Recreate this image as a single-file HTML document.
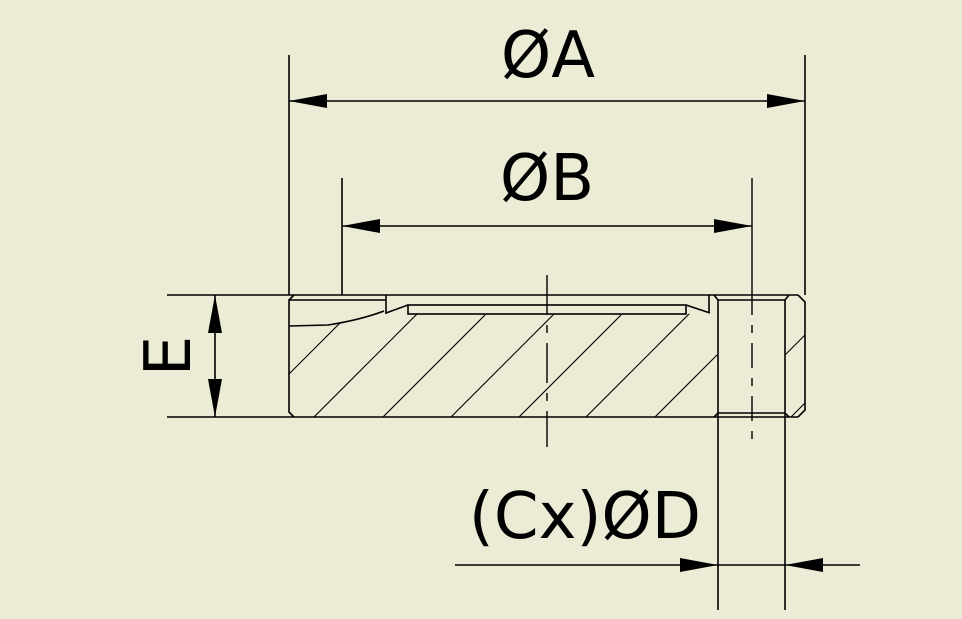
<!DOCTYPE html>
<html><head><meta charset="utf-8"><style>
html,body{margin:0;padding:0;background:#ECEBD6;}
svg{display:block}
text{font-family:"DejaVu Sans","Liberation Sans",sans-serif;fill:#000}
</style></head><body>
<svg width="962" height="619" viewBox="0 0 962 619" xmlns="http://www.w3.org/2000/svg">
<rect width="962" height="619" fill="#ECEBD6"/>
<defs>
<clipPath id="c1">
<path d="M289,326 L328,325 Q360,320 384,311 L386,313 L408,314 L686,314 L710,313 L718,313 L718,417 L289,417 Z M785,300 L805,300 L805,417 L785,417 Z"/>
</clipPath>
</defs>
<g stroke="#000" fill="none" stroke-width="1.6">
<g clip-path="url(#c1)" stroke-width="1.1">
<line x1="246" y1="417" x2="396" y2="267"/>
<line x1="314" y1="417" x2="464" y2="267"/>
<line x1="383" y1="417" x2="533" y2="267"/>
<line x1="451" y1="417" x2="601" y2="267"/>
<line x1="519" y1="417" x2="669" y2="267"/>
<line x1="586" y1="417" x2="736" y2="267"/>
<line x1="655" y1="417" x2="805" y2="267"/>
<line x1="723" y1="417" x2="873" y2="267"/>
<line x1="791" y1="417" x2="941" y2="267"/>
</g>
<line x1="167" y1="295" x2="798" y2="295"/>
<line x1="167" y1="417" x2="798" y2="417"/>
<polyline points="798,295 805,302 805,410 798,417"/>
<polyline points="294,295 289,300 289,412 294,417"/>
<polyline points="289,300 386,300"/>
<line x1="386" y1="295" x2="386" y2="314"/>
<path d="M289,326 L328,325 Q360,320 384,311"/>
<polyline points="386,313 408,305"/>
<rect x="408" y="305" width="278" height="9"/>
<polyline points="686,305 710,313"/>
<line x1="709" y1="295" x2="709" y2="313"/>
<line x1="718" y1="300" x2="718" y2="610"/>
<line x1="785" y1="300" x2="785" y2="610"/>
<line x1="718" y1="300" x2="785" y2="300"/>
<line x1="718" y1="413" x2="785" y2="413"/>
<polyline points="714,295 718,300"/><polyline points="789,295 785,300"/>
<polyline points="714,417 718,413"/><polyline points="789,417 785,413"/>
<line x1="547" y1="275" x2="547" y2="447" stroke-dasharray="40,10,8,10" stroke-width="1.4"/>
<line x1="752" y1="178" x2="752" y2="290" stroke-width="1.4"/>
<line x1="752" y1="290" x2="752" y2="447" stroke-dasharray="25,10,8,10" stroke-width="1.4"/>
<line x1="289" y1="55" x2="289" y2="295"/>
<line x1="805" y1="55" x2="805" y2="295"/>
<line x1="342" y1="178" x2="342" y2="295"/>
<line x1="289" y1="101" x2="805" y2="101"/>
<line x1="342" y1="226" x2="752" y2="226"/>
<line x1="215" y1="295" x2="215" y2="417"/>
<line x1="455" y1="565" x2="860" y2="565"/>
</g>
<g fill="#000">
<polygon points="289,101 327,94 327,108"/>
<polygon points="805,101 767,94 767,108"/>
<polygon points="342,226 380,219 380,233"/>
<polygon points="752,226 714,219 714,233"/>
<polygon points="215,295 208,333 222,333"/>
<polygon points="215,417 208,379 222,379"/>
<polygon points="718,565 680,558 680,572"/>
<polygon points="785,565 823,558 823,572"/>
</g>
<text x="548" y="77" font-size="64" text-anchor="middle">ØA</text>
<text x="547" y="200" font-size="64" text-anchor="middle">ØB</text>
<text x="585" y="538" font-size="64" text-anchor="middle">(Cx)ØD</text>
<text transform="translate(190,356) rotate(-90)" font-size="64" text-anchor="middle">E</text>
</svg>
</body></html>
